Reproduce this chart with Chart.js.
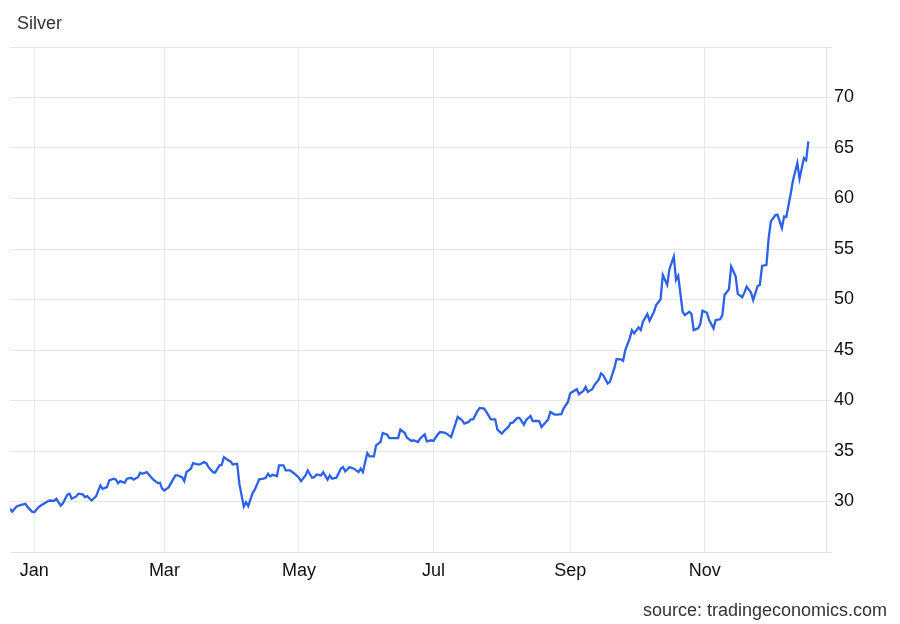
<!DOCTYPE html>
<html>
<head>
<meta charset="utf-8">
<script src="https://cdn.jsdelivr.net/npm/chart.js@4.4.1/dist/chart.umd.min.js"></script>
<style>
  html, body { margin: 0; padding: 0; background: #ffffff; }
  #wrap { position: relative; width: 900px; height: 624px; font-family: "Liberation Sans", Arial, sans-serif; }
  #chart { position: absolute; left: 0; top: 0; }
  .txt { position: absolute; font-size: 18px; line-height: 18px; color: #333333; white-space: nowrap; }
  #title { left: 17px; top: 14px; }
  #source { right: 13px; top: 601px; }
</style>
</head>
<body>
<div id="wrap">
  <canvas id="chart" width="900" height="624"></canvas>
  <div class="txt" id="title">Silver</div>
  <div class="txt" id="source">source: tradingeconomics.com</div>
</div>
<script>
// ---- data ----
const dates = [
  "2024-12-21","2024-12-22","2024-12-24","2024-12-26","2024-12-28","2024-12-29","2024-12-31",
  "2025-01-01","2025-01-03","2025-01-04","2025-01-07","2025-01-08","2025-01-10","2025-01-11","2025-01-13","2025-01-14","2025-01-16","2025-01-17","2025-01-18","2025-01-20","2025-01-21","2025-01-23","2025-01-24","2025-01-25","2025-01-27","2025-01-29","2025-01-31",
  "2025-02-01","2025-02-03","2025-02-04","2025-02-06","2025-02-07","2025-02-08","2025-02-09","2025-02-11","2025-02-12","2025-02-14","2025-02-15","2025-02-17","2025-02-18","2025-02-19","2025-02-21","2025-02-23","2025-02-24","2025-02-26","2025-02-27","2025-02-28",
  "2025-03-01","2025-03-03","2025-03-04","2025-03-06","2025-03-07","2025-03-09","2025-03-10","2025-03-11","2025-03-13","2025-03-14","2025-03-16","2025-03-17","2025-03-19","2025-03-20","2025-03-21","2025-03-23","2025-03-24","2025-03-26","2025-03-27","2025-03-28","2025-03-30","2025-03-31",
  "2025-04-01","2025-04-03","2025-04-04","2025-04-06","2025-04-07","2025-04-08","2025-04-10","2025-04-11","2025-04-13","2025-04-15","2025-04-16","2025-04-17","2025-04-18","2025-04-19","2025-04-21","2025-04-22","2025-04-24","2025-04-25","2025-04-27","2025-04-29",
  "2025-05-01","2025-05-02","2025-05-04","2025-05-05","2025-05-07","2025-05-08","2025-05-09","2025-05-11","2025-05-12","2025-05-14","2025-05-15","2025-05-16","2025-05-18","2025-05-20","2025-05-21","2025-05-22","2025-05-24","2025-05-26","2025-05-28","2025-05-29","2025-05-30",
  "2025-06-01","2025-06-02","2025-06-04","2025-06-05","2025-06-07","2025-06-08","2025-06-10","2025-06-11","2025-06-13","2025-06-15","2025-06-16","2025-06-18","2025-06-19","2025-06-21","2025-06-22","2025-06-24","2025-06-25","2025-06-27","2025-06-28","2025-06-30",
  "2025-07-01","2025-07-03","2025-07-04","2025-07-06","2025-07-07","2025-07-09","2025-07-12","2025-07-14","2025-07-15","2025-07-17","2025-07-18","2025-07-19","2025-07-21","2025-07-22","2025-07-24","2025-07-25","2025-07-27","2025-07-29","2025-07-30",
  "2025-08-01","2025-08-02","2025-08-04","2025-08-05","2025-08-06","2025-08-08","2025-08-09","2025-08-11","2025-08-12","2025-08-14","2025-08-15","2025-08-17","2025-08-18","2025-08-19","2025-08-21","2025-08-22","2025-08-23","2025-08-25","2025-08-26","2025-08-28","2025-08-29","2025-08-31",
  "2025-09-01","2025-09-02","2025-09-04","2025-09-05","2025-09-07","2025-09-08","2025-09-09","2025-09-11","2025-09-12","2025-09-14","2025-09-15","2025-09-16","2025-09-18","2025-09-19","2025-09-21","2025-09-22","2025-09-24","2025-09-25","2025-09-26","2025-09-28","2025-09-29","2025-09-30",
  "2025-10-02","2025-10-03","2025-10-04","2025-10-06","2025-10-07","2025-10-09","2025-10-10","2025-10-12","2025-10-13","2025-10-15","2025-10-16","2025-10-18","2025-10-19","2025-10-20","2025-10-22","2025-10-23","2025-10-25","2025-10-26","2025-10-27","2025-10-29","2025-10-30","2025-10-31",
  "2025-11-02","2025-11-03","2025-11-05","2025-11-06","2025-11-08","2025-11-09","2025-11-10","2025-11-12","2025-11-13","2025-11-15","2025-11-16","2025-11-18","2025-11-19","2025-11-20","2025-11-22","2025-11-23","2025-11-25","2025-11-26","2025-11-27","2025-11-29","2025-11-30",
  "2025-12-01","2025-12-03","2025-12-04","2025-12-06","2025-12-07","2025-12-08","2025-12-10","2025-12-11","2025-12-13","2025-12-14","2025-12-16","2025-12-17","2025-12-18"
];
const prices = [
  29.28,29.00,29.50,29.67,29.77,29.44,29.00,
  28.94,29.44,29.60,30.00,30.10,30.07,30.27,29.60,29.83,30.67,30.77,30.27,30.50,30.77,30.70,30.43,30.53,30.10,30.50,31.59,
  31.26,31.42,32.09,32.26,32.16,31.82,32.02,31.86,32.26,32.35,32.16,32.41,32.85,32.75,32.91,32.41,32.16,31.82,31.86,31.26,
  31.09,31.42,31.82,32.58,32.58,32.41,32.02,32.91,33.25,33.80,33.67,33.67,33.90,33.80,33.40,32.91,32.85,33.58,33.64,34.40,34.07,33.97,
  33.67,33.74,31.76,29.50,29.93,29.54,30.83,31.17,32.19,32.26,32.35,32.75,32.48,32.65,32.51,33.58,33.58,33.08,33.08,32.75,
  32.35,32.02,32.58,33.08,32.35,32.41,32.68,32.58,32.91,32.16,32.58,32.26,32.35,33.25,33.41,32.98,33.41,33.25,32.91,33.25,32.91,
  34.80,34.47,34.47,35.56,35.89,36.78,36.62,36.28,36.28,36.28,37.12,36.78,36.32,35.99,36.06,35.89,36.25,36.65,35.96,36.06,
  35.99,36.65,36.88,36.82,36.72,36.38,38.37,38.04,37.71,37.88,38.14,38.14,38.97,39.26,39.20,38.87,38.14,38.14,37.12,
  36.72,36.98,37.38,37.78,37.81,38.27,38.27,37.61,38.04,38.47,37.97,37.97,37.94,37.38,37.88,38.11,38.87,38.61,38.61,38.64,39.20,39.86,
  40.69,40.85,41.12,40.62,40.95,41.35,40.85,41.12,41.52,42.08,42.68,42.51,41.69,41.85,43.17,44.10,44.07,43.93,44.99,46.15,46.97,46.65,
  47.24,46.97,47.80,48.56,47.90,48.79,49.46,50.02,52.43,51.44,53.00,54.25,51.94,52.33,48.79,48.46,48.79,48.56,46.97,47.14,47.57,48.89,
  48.69,47.97,47.14,47.97,48.04,48.46,50.45,51.02,53.26,52.33,50.55,50.22,50.68,51.27,50.68,49.95,51.34,51.44,53.33,53.43,56.08,
  57.73,58.33,58.39,57.07,58.23,58.16,60.47,61.76,63.52,61.96,64.00,63.78,65.66
];
const tickDates = ["2025-01-01","2025-03-01","2025-05-01","2025-07-01","2025-09-01","2025-11-01"];
const tickLabels = ["Jan","Mar","May","Jul","Sep","Nov"];
const rangeStart = "2024-12-21";
const rangeEnd = "2025-12-26";
const yMin = 25, yMax = 75, yStep = 5;
const yLabelled = [30, 35, 40, 45, 50, 55, 60, 65, 70];

// ---- helpers ----
const DAY = 86400000;
const origin = Date.parse("2025-01-01");
const toDay = s => (Date.parse(s) - origin) / DAY;

const points = dates.map((d, i) => ({ x: toDay(d), y: prices[i] }));
const tickDays = tickDates.map(toDay);

const FONT = "'Liberation Sans', Arial, sans-serif";

new Chart(document.getElementById('chart'), {
  type: 'line',
  data: {
    datasets: [{
      label: 'Silver',
      data: points,
      borderColor: '#2b62e8',
      borderWidth: 2.3,
      pointRadius: 0,
      tension: 0,
      fill: false
    }]
  },
  options: {
    responsive: false,
    animation: false,
    layout: { padding: { left: 10, top: 47, right: 0, bottom: 0 } },
    plugins: { legend: { display: false }, tooltip: { enabled: false }, title: { display: false } },
    scales: {
      x: {
        type: 'linear',
        min: toDay(rangeStart),
        max: toDay(rangeEnd),
        afterBuildTicks: s => { s.ticks = tickDays.map(v => ({ value: v })); },
        afterFit: s => { s.height = 72; },
        ticks: {
          autoSkip: false,
          maxRotation: 0,
          padding: 8,
          color: '#111111',
          font: { family: FONT, size: 18 },
          callback: (v) => { const i = tickDays.indexOf(v); return i >= 0 ? tickLabels[i] : ''; }
        },
        grid: { color: '#e3ebee', lineWidth: 1, drawTicks: false },
        border: { display: true, color: '#e2e2e2', width: 1 }
      },
      y: {
        position: 'right',
        min: yMin,
        max: yMax,
        afterFit: s => { s.width = 74; },
        ticks: {
          stepSize: yStep,
          padding: 2,
          color: '#111111',
          font: { family: FONT, size: 18 },
          callback: v => yLabelled.includes(v) ? String(v) : ''
        },
        grid: { color: '#e6e6e6', lineWidth: 1, drawTicks: true, tickLength: 6 },
        border: { display: true, color: '#e2e2e2', width: 1 }
      }
    }
  }
});
</script>
</body>
</html>
